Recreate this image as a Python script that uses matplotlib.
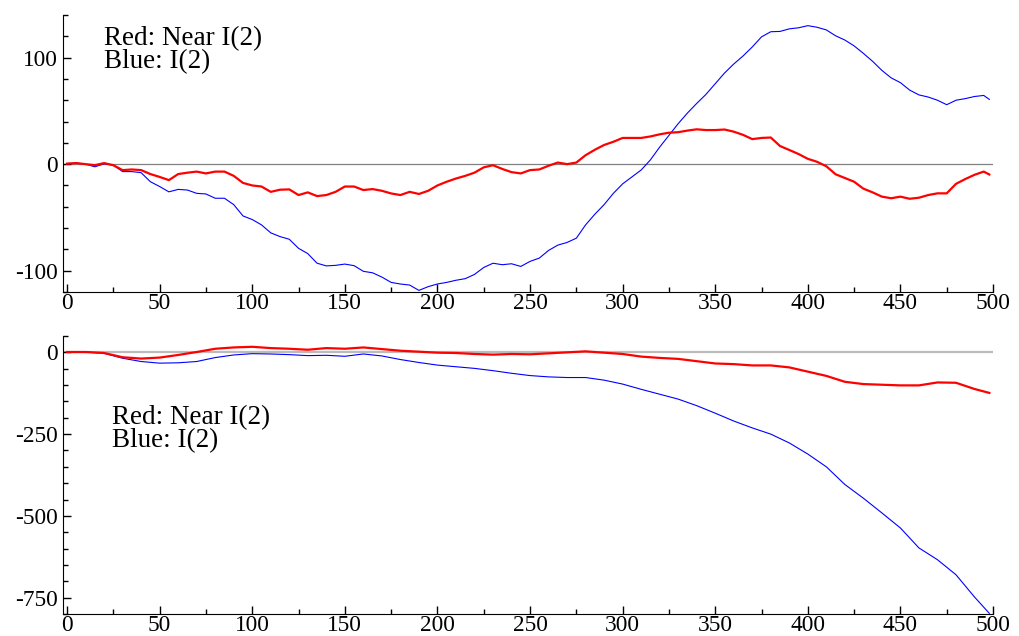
import matplotlib
matplotlib.use("Agg")
import matplotlib.pyplot as plt
from matplotlib.ticker import MultipleLocator

plt.rcParams['font.family'] = ['Liberation Serif', 'DejaVu Serif']
plt.rcParams['axes.unicode_minus'] = False

# top panel, sampled every 5 steps
top_x = list(range(0, 500, 5)) + [498]
top_red = [0.5, 1, 0, -1, 1, -1, -5.6, -5, -5.6, -9.3,
           -12, -15, -9.3, -8, -7, -8.7, -7, -7, -11, -17.6,
           -20, -21, -26, -24, -23.7, -29, -26.5, -30, -29, -26,
           -21, -21, -24.3, -23.4, -25, -27.5, -29, -26, -28, -25,
           -20, -16.5, -13.5, -11, -8, -3, -1, -4.5, -7.5, -8.7,
           -5.6, -5, -1.5, 1.5, 0, 1.5, 8.4, 13.5, 18, 21,
           24.6, 24.6, 24.6, 26, 28, 29.5, 30, 31.5, 32.7, 32,
           32, 32.5, 30.5, 27.5, 23.5, 24.6, 25, 17, 13.3, 9.5,
           5, 2.2, -2, -9.5, -13, -16.5, -23, -26.5, -30.5, -32,
           -30.5, -32.5, -31.5, -29, -27.4, -27.4, -18.5, -14, -10, -7,
           -9.7]
top_blue = [0.5, 1, 0, -2.5, 0.3, -1, -7, -7, -8, -16.5,
            -21, -26, -23.7, -24.3, -27.4, -28, -32, -32, -38, -48.6,
            -52, -57, -64.5, -68, -70.5, -79, -84, -93, -95.5, -95,
            -93.8, -95.3, -100.6, -102, -106, -111, -112.5, -113.5, -118.5, -115,
            -112.5, -111, -109, -107.5, -103.5, -97, -93, -94.4, -93.5, -96,
            -91.3, -88.2, -81, -76, -73.5, -69.5, -57, -47, -38, -27.4,
            -18.5, -12, -5.5, 4, 16, 27, 38, 48, 57, 65.5,
            75.5, 85.5, 94, 101.5, 110, 119.5, 124.3, 124.6, 127, 128,
            130, 128.5, 126, 120.5, 116.5, 111, 104, 96.5, 88, 81,
            76.5, 69.5, 65, 63, 60, 55.8, 60, 61.5, 63.5, 64.5,
            60.8]

# bottom panel, sampled every 10 steps
bot_x = list(range(0, 500, 10)) + [498]
bot_red = [1, 1, -2, -15, -19, -16, -8, 1, 11, 15,
           17, 13, 11, 8, 13, 11, 15, 10, 5, 2,
           -1, -2, -5, -7, -5, -6, -3, 0, 3, -1,
           -5, -13, -17, -20, -27, -34, -36, -40, -40, -46,
           -59, -72, -90, -97, -99, -101, -101, -92, -93, -112,
           -124]
bot_blue = [1, 1, -3, -18, -28, -33, -32, -28, -16, -8,
            -4, -5, -7, -10, -9, -12, -5, -11, -22, -31,
            -39, -44, -49, -56, -64, -71, -75, -77, -77, -85,
            -97, -113, -128, -143, -163, -186, -210, -231, -250, -277,
            -311, -350, -404, -446, -491, -537, -598, -634, -680, -748,
            -798]

labels = ["Red: Near I(2)", "Blue: I(2)"]

fig = plt.figure(figsize=(10.19, 6.36), dpi=100)
ax1 = fig.add_axes([0.0618, 0.5409, 0.9127, 0.4355])
ax2 = fig.add_axes([0.0618, 0.0346, 0.9127, 0.4371])


def style_axis(ax, ylim, ymajor, yminor):
    ax.set_xlim(-2.2, 500)
    ax.set_ylim(*ylim)
    ax.spines['top'].set_visible(False)
    ax.spines['right'].set_visible(False)
    ax.xaxis.set_major_locator(MultipleLocator(50))
    ax.xaxis.set_minor_locator(MultipleLocator(25))
    ax.yaxis.set_major_locator(MultipleLocator(ymajor))
    ax.yaxis.set_minor_locator(MultipleLocator(yminor))
    ax.tick_params(which='both', direction='in', width=1, labelsize=16.8)
    ax.tick_params(which='major', length=6)
    ax.tick_params(which='minor', length=3.5)
    ax.tick_params(axis='x', pad=1)
    ax.tick_params(axis='y', pad=4)


# top panel
ax1.axhline(0, color='#808080', lw=0.9, zorder=1)
ax1.plot(top_x, top_red, color='#ff0000', lw=1.6, zorder=3)
ax1.plot(top_x, top_blue, color='#0000ff', lw=0.8, zorder=2)
style_axis(ax1, (-120, 140), 100, 20)
ax1.text(0.044, 0.893, labels[0], transform=ax1.transAxes, fontsize=19.5, va='baseline')
ax1.text(0.044, 0.807, labels[1], transform=ax1.transAxes, fontsize=19.5, va='baseline')

# bottom panel
ax2.axhline(0, color='#bbbbbb', lw=1.6, zorder=1)
ax2.plot(bot_x, bot_red, color='#ff0000', lw=1.6, zorder=3)
ax2.plot(bot_x, bot_blue, color='#0000ff', lw=0.8, zorder=2)
style_axis(ax2, (-800, 50), 250, 50)
ax2.text(0.0527, 0.684, labels[0], transform=ax2.transAxes, fontsize=19.5, va='baseline')
ax2.text(0.0527, 0.600, labels[1], transform=ax2.transAxes, fontsize=19.5, va='baseline')

fig.savefig("out.png", dpi=100)
